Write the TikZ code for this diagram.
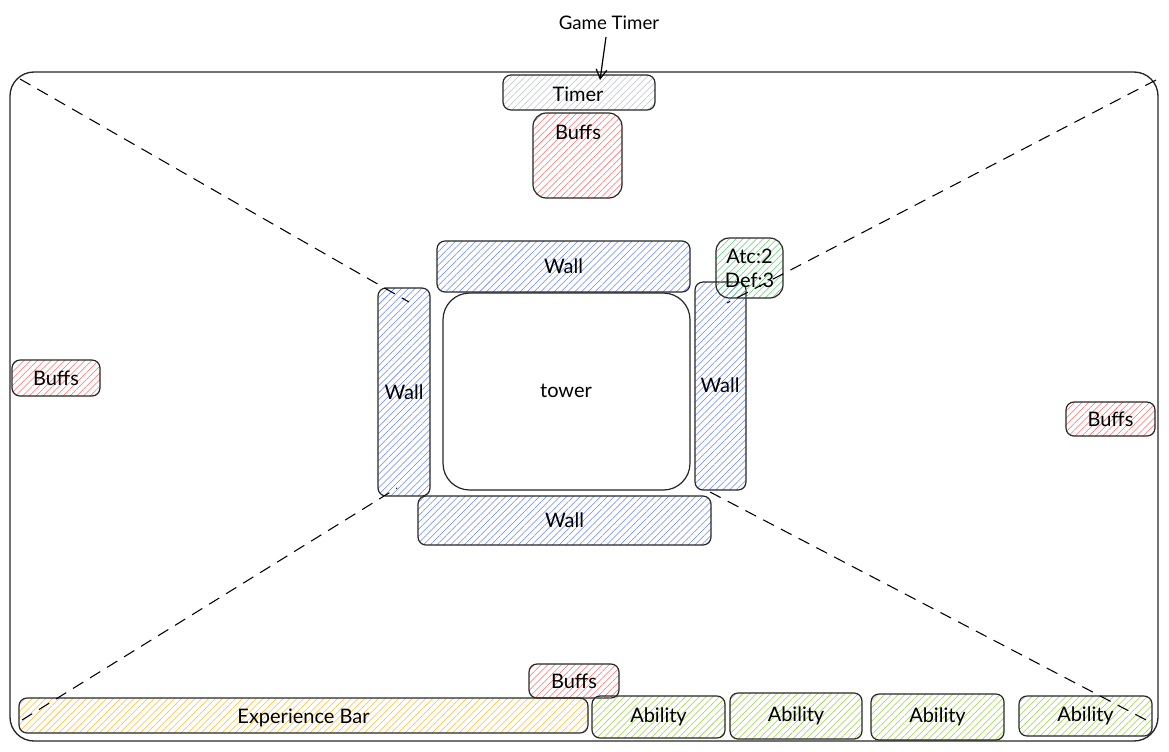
\documentclass[tikz,border=0pt]{standalone}
\usepackage{fontspec}
\setmainfont{Lato}
\usetikzlibrary{patterns.meta,arrows.meta,fit}
\definecolor{hred}{HTML}{FA5252}
\definecolor{hblue}{HTML}{4C6EF5}
\definecolor{hgreen}{HTML}{40C057}
\definecolor{hlime}{HTML}{82C91E}
\definecolor{hyellow}{HTML}{FAB005}
\definecolor{hgray}{HTML}{ADB5BD}
\tikzset{
  uibox/.style={draw=black!85, line width=0.9pt, rounded corners=6pt, inner sep=0pt,
    font=\fontsize{15}{18}\selectfont},
  hatch/.style={pattern={Lines[angle=45,distance=3.6pt,line width=0.4pt]}, pattern color=#1!85},
  lbl/.style={font=\fontsize{15}{18}\selectfont, inner sep=0pt},
  guide/.style={line width=0.8pt, dash pattern=on 9pt off 6pt},
}
\begin{document}
\begin{tikzpicture}[x=0.75pt,y=-0.75pt]
\useasboundingbox (0,0) rectangle (1169,751);
% screen frame
\node[draw=black!85, line width=1pt, rounded corners=18pt, inner sep=0pt,
      fit={(10,72) (1158,741)}] (frame) {};

% top bar
\node[uibox, hatch=hgray, fit={(503,75) (655,110)}] (timer) {};
\node[lbl] (timertxt) at (578,94) {Timer};
\node[uibox, rounded corners=10pt, hatch=hred, fit={(533,113) (622,198)}] (buffstop) {};
\node[lbl] (buffstoptxt) at (578,132) {Buffs};
\node[lbl, font=\fontsize{14}{16}\selectfont] (gametimer) at (609,23) {Game Timer};
\coordinate (gtfoot) at (606,37);
\coordinate (timertop) at (600,80);
\draw[line width=0.9pt, -{Straight Barb[length=7pt,width=8pt]}] (gtfoot) -- (timertop);

% tower with its walls
\node[uibox, hatch=hblue, fit={(437,241) (690,292)}] (walltop) {};
\node[lbl] at (walltop.center) {Wall};
\node[uibox, hatch=hblue, fit={(378,288) (430,496)}] (wallleft) {};
\node[lbl] at (404,392) {Wall};
\node[uibox, rounded corners=20pt, fill=white, fit={(443,293) (690,490)}] (tower) {};
\node[lbl] at (566,391) {tower};
\node[uibox, hatch=hblue, fit={(695,282) (746,490)}] (wallright) {};
\node[lbl] at (720,385) {Wall};
\node[uibox, hatch=hblue, fit={(418,496) (711,545)}] (wallbottom) {};
\node[lbl] at (wallbottom.center) {Wall};
\node[uibox, rounded corners=10pt, hatch=hgreen, fit={(716,238) (783,298)}] (stats) {};
\node[lbl, align=center] at (stats.center) {Atc:2\\Def:3};

% side buffs
\node[uibox, hatch=hred, fit={(12,360) (100,396)}] (buffsleft) {};
\node[lbl] at (buffsleft.center) {Buffs};
\node[uibox, hatch=hred, fit={(1066,402) (1155,436)}] (buffsright) {};
\node[lbl] at (buffsright.center) {Buffs};

% bottom bar
\node[uibox, hatch=hred, fit={(529,664) (619,698)}] (buffsbottom) {};
\node[lbl] at (buffsbottom.center) {Buffs};
\node[uibox, hatch=hyellow, fit={(19,698) (588,733)}] (xpbar) {};
\node[lbl] at ([yshift=-2]xpbar.center) {Experience Bar};
\node[uibox, hatch=hlime, fit={(592,696) (725,738)}] (ab1) {};
\node[lbl] at (ab1.center) {Ability};
\node[uibox, hatch=hlime, fit={(730,693) (862,739)}] (ab2) {};
\node[lbl] at (ab2.center) {Ability};
\node[uibox, hatch=hlime, fit={(871,694) (1004,740)}] (ab3) {};
\node[lbl] at (ab3.center) {Ability};
\node[uibox, hatch=hlime, fit={(1019,696) (1152,736)}] (ab4) {};
\node[lbl] at (ab4.center) {Ability};

% dashed diagonals of the screen
\coordinate (dtl0) at (20,79);   \coordinate (dtl1) at (409,302);
\coordinate (dtr0) at (1156,80); \coordinate (dtr1) at (727,303);
\coordinate (dbl0) at (22,720);  \coordinate (dbl1) at (397,488);
\coordinate (dbr0) at (710,492); \coordinate (dbr1) at (1150,722);
\draw[guide] (dtl0) -- (dtl1);
\draw[guide] (dtr0) -- (dtr1);
\draw[guide] (dbl0) -- (dbl1);
\draw[guide] (dbr0) -- (dbr1);
\end{tikzpicture}
\end{document}
